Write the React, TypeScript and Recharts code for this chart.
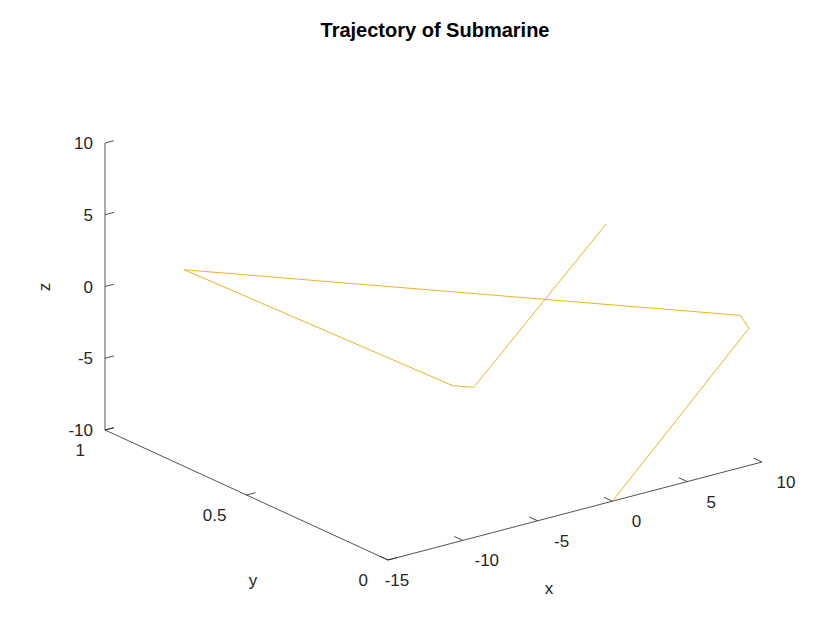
import { ScatterChart, Scatter, XAxis, YAxis } from "recharts";

// trajectory points [x, y, z]
const pathX = [0, 10, 9.5, -15, -5, -3.6, 8];
const pathY = [0, 0.046, 0.05, 0.72, 0.3, 0.3, 0.445];
const pathZ = [-10, -1.1, -0.1, 3.7, -3.3, -3.8, 3.1];

const xTicks = [-15, -10, -5, 0, 5, 10];
const yTicks = [0, 0.5, 1];
const zTicks = [-10, -5, 0, 5, 10];

const COLOR = "#EDB120";
const INK = "#262626";
const FONT = "'Liberation Sans', Arial, sans-serif";

// simple oblique projection onto screen pixels
const proj = (x: number, y: number, z: number) => ({
  sx: 388 + (x + 15) * 14.96 - y * 283,
  sy: 560 - (x + 15) * 3.92 - y * 130 - (z + 10) * 14.35,
});

const trajectory = pathX.map((x, i) => proj(x, pathY[i], pathZ[i]));
const xAxisLine = [proj(-15, 0, -10), proj(10, 0, -10)];
const yAxisLine = [proj(-15, 0, -10), proj(-15, 1, -10)];
const zAxisLine = [proj(-15, 1, -10), proj(-15, 1, 10)];

const tickSegs: { sx: number; sy: number }[][] = [
  ...xTicks.map((t) => [proj(t, 0, -10), proj(t, 0.03, -10)]),
  ...yTicks.map((t) => [proj(-15, t, -10), proj(-14.4, t, -10)]),
  ...zTicks.map((t) => [proj(-15, 1, t), proj(-14.4, 1, t)]),
];

const labels = [
  ...xTicks.map((t) => {
    const p = proj(t, 0, -10);
    const dx = t === -15 ? 9 : 24;
    return { sx: p.sx + dx, sy: p.sy + 26, text: String(t), anchor: "middle" };
  }),
  ...yTicks.map((t) => {
    const p = proj(-15, t, -10);
    return { sx: p.sx - 20, sy: p.sy + 26, text: String(t), anchor: "end" };
  }),
  ...zTicks.map((t) => {
    const p = proj(-15, 1, t);
    return { sx: p.sx - 12, sy: p.sy + 6, text: String(t), anchor: "end" };
  }),
  { sx: 549, sy: 594, text: "x", anchor: "middle" },
  { sx: 253, sy: 586, text: "y", anchor: "middle" },
];

const noDot = () => null;

const Label = (props: any) => {
  const { cx, cy, payload } = props;
  return (
    <text x={cx} y={cy} textAnchor={payload.anchor} fontSize={17} fill={INK} fontFamily={FONT}>
      {payload.text}
    </text>
  );
};

export default function App() {
  return (
    <div style={{ position: "absolute", left: 0, top: 0, width: 840, height: 630, background: "#fff" }}>
      <ScatterChart width={840} height={630} margin={{ top: 0, right: 0, bottom: 0, left: 0 }}>
        <XAxis type="number" dataKey="sx" domain={[0, 840]} hide />
        <YAxis type="number" dataKey="sy" domain={[0, 630]} reversed hide />
        {[xAxisLine, yAxisLine, zAxisLine, ...tickSegs].map((seg, i) => (
          <Scatter key={i} data={seg} line={{ stroke: INK, strokeWidth: 0.8 }} shape={noDot} isAnimationActive={false} />
        ))}
        <Scatter data={trajectory} line={{ stroke: COLOR, strokeWidth: 1 }} shape={noDot} isAnimationActive={false} />
        <Scatter data={labels} shape={Label} isAnimationActive={false} />
      </ScatterChart>
      <div style={{ position: "absolute", left: 0, top: 19, width: 870, textAlign: "center", fontFamily: FONT, fontWeight: "bold", fontSize: 20, color: "#000" }}>
        Trajectory of Submarine
      </div>
      <div style={{ position: "absolute", left: 41, top: 277, fontFamily: FONT, fontSize: 17, color: INK, transform: "rotate(-90deg)" }}>
        z
      </div>
    </div>
  );
}
